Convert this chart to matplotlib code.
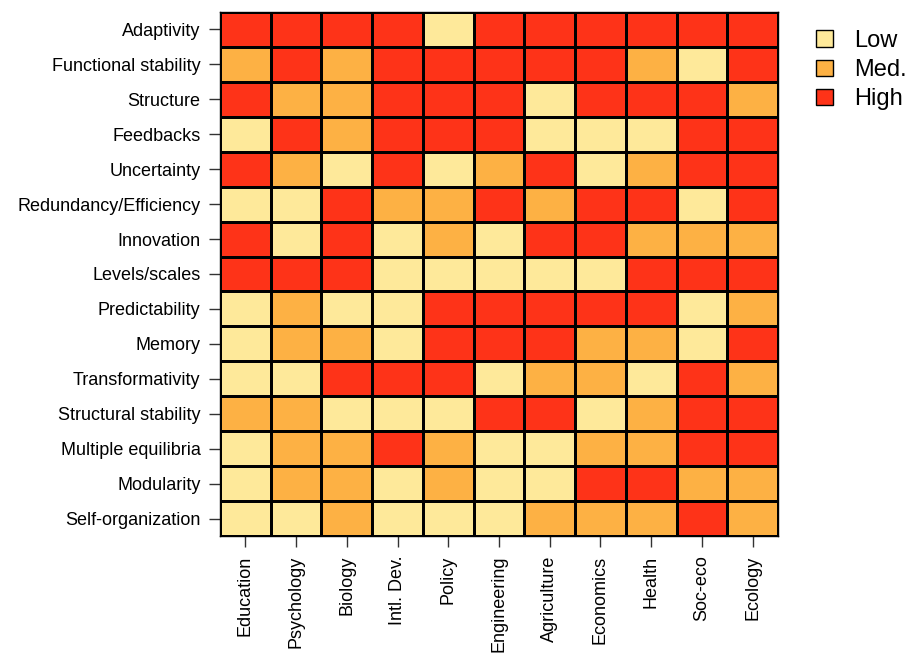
import numpy as np
import matplotlib.pyplot as plt
from matplotlib.colors import ListedColormap
from matplotlib.patches import Patch

plt.rcParams['font.family'] = ['Liberation Sans', 'DejaVu Sans']

rows = ["Adaptivity", "Functional stability", "Structure", "Feedbacks",
        "Uncertainty", "Redundancy/Efficiency", "Innovation", "Levels/scales",
        "Predictability", "Memory", "Transformativity", "Structural stability",
        "Multiple equilibria", "Modularity", "Self-organization"]
cols = ["Education", "Psychology", "Biology", "Intl. Dev.", "Policy",
        "Engineering", "Agriculture", "Economics", "Health", "Soc-eco", "Ecology"]
levels = ["Low", "Med.", "High"]
colors = ["#FEE99A", "#FDB144", "#FE3318"]

# L=0, M=1, H=2
grid_txt = [
    "HHHHLHHHHHH",
    "MHMHHHHHMLH",
    "HMMHHHLHHHM",
    "LHMHHHLLLHH",
    "HMLHLMHLMHH",
    "LLHMMHMHHLH",
    "HLHLMLHHMMM",
    "HHHLLLLLHHH",
    "LMLLHHHHHLM",
    "LMMLHHHMMLH",
    "LLHHHLMMLHM",
    "MMLLLHHLMHH",
    "LMMHMLLMMHH",
    "LMMLMLLHHMM",
    "LLMLLLMMMHM",
]
code = {"L": 0, "M": 1, "H": 2}
values = np.array([[code[c] for c in r] for r in grid_txt])

fig = plt.figure(figsize=(9.07, 6.53), dpi=100)
ax = fig.add_axes([220 / 907, 1 - 536 / 653, 558 / 907, 524 / 653])

ax.pcolormesh(values, cmap=ListedColormap(colors), vmin=-0.5, vmax=2.5,
              edgecolors="black", linewidth=0.8)
ax.set_xlim(0, len(cols))
ax.set_ylim(len(rows), 0)
ax.set_xticks(np.arange(len(cols)) + 0.5)
ax.set_xticklabels(cols, rotation=90, fontsize=13)
ax.set_yticks(np.arange(len(rows)) + 0.5)
ax.set_yticklabels(rows, fontsize=13)
ax.tick_params(length=8, width=1, color="#333333", pad=6)
for s in ax.spines.values():
    s.set_linewidth(1.0)

handles = [Patch(facecolor=c, edgecolor="black", label=l) for c, l in zip(colors, levels)]
fig.legend(handles=handles, loc="upper left", bbox_to_anchor=(816 / 907, 1 - 30 / 653),
           frameon=False, fontsize=17, handlelength=0.7, handleheight=0.7,
           handletextpad=0.9, labelspacing=0.3, borderpad=0, borderaxespad=0)

fig.savefig("out.png", dpi=100)
